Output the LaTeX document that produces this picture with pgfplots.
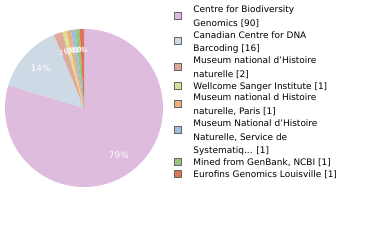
\documentclass[border=0pt]{standalone}
\usepackage{pgfplots}
\pgfplotsset{compat=1.18}
\usepackage{fontspec}
\setmainfont{DejaVu Sans}
\definecolor{c1}{HTML}{DDBCDD}
\definecolor{c2}{HTML}{CDD9E5}
\definecolor{c3}{HTML}{DEA99A}
\definecolor{c4}{HTML}{DCDF9A}
\definecolor{c5}{HTML}{EFAF79}
\definecolor{c6}{HTML}{9CBFE0}
\definecolor{c7}{HTML}{99C47D}
\definecolor{c8}{HTML}{DF7455}
\pgfplotsset{
  sqmid/.style={legend image code/.code={%
    \path[draw=none,fill=none] (0bp,0bp) (19bp,0bp);
    \draw[##1, draw=gray!80!black, line width=0.5pt] (0bp,-3.5bp) rectangle (7bp,3.5bp);}},
  sqhigh/.style={legend image code/.code={%
    \path[draw=none,fill=none] (0bp,0bp) (19bp,0bp);
    \draw[##1, draw=gray!80!black, line width=0.5pt] (0bp,2.9bp) rectangle (7bp,9.9bp);}},
}
\newcommand{\tot}{113}
\newcommand{\st}{\rule[-3.8bp]{0pt}{12.8bp}}
\newcommand{\slice}[5]{%
  \pgfmathsetmacro{\aA}{90-(#1+#2)/\tot*360}%
  \pgfmathsetmacro{\aB}{90-(#1)/\tot*360}%
  \edef\temp{\noexpand\addplot[fill=#3, draw=none, domain=\aA:\aB, samples=120, #5] ({cos(x)},{sin(x)}) -- (axis cs:0,0) -- cycle;}%
  \temp
  \addlegendentry{#4}%
}
\newcommand{\plabel}[4]{%
  \pgfmathsetmacro{\aM}{90-(#1+#2/2)/\tot*360}%
  \edef\temp{\noexpand\node[text=white, font=\unexpanded{#4}] at (axis cs:{0.74*cos(\aM)},{0.74*sin(\aM)}) {\unexpanded{#3}};}%
  \temp
}
\begin{document}
\begin{tikzpicture}
\useasboundingbox (0,0) rectangle (380bp,240bp);
\begin{axis}[
  at={(5bp,53bp)}, anchor=south west,
  scale only axis, width=158bp, height=158bp,
  xmin=-1, xmax=1, ymin=-1, ymax=1,
  hide axis, clip=false,
  legend cell align=left,
  legend style={at={(1.0696,1.162)}, anchor=north west, draw=none, fill=none,
    inner sep=0pt, row sep=1.2bp,
    font=\fontsize{9}{12.8}\selectfont,
    nodes={inner sep=0pt, align=left, text=black}},
  sqmid
]
\slice{0}{90}{c1}{\st Centre for Biodiversity\\\st Genomics [90]}{sqmid}
\slice{90}{16}{c2}{\st Canadian Centre for DNA\\\st Barcoding [16]}{sqmid}
\slice{106}{2}{c3}{\st Museum national d'Histoire\\\st naturelle [2]}{sqmid}
\slice{108}{1}{c4}{\st Wellcome Sanger Institute [1]}{sqmid}
\slice{109}{1}{c5}{\st Museum national d Histoire\\\st naturelle, Paris [1]}{sqmid}
\slice{110}{1}{c6}{\st Museum National d'Histoire\\\st Naturelle, Service de\\\st Systematiq... [1]}{sqhigh}
\slice{111}{1}{c7}{\st Mined from GenBank, NCBI [1]}{sqmid}
\slice{112}{1}{c8}{\st Eurofins Genomics Louisville [1]}{sqmid}
\plabel{0}{90}{79\%}{\fontsize{9}{10}\selectfont}
\plabel{90}{16}{14\%}{\fontsize{9}{10}\selectfont}
\plabel{106}{2}{1\%}{\fontsize{7}{8}\selectfont}
\plabel{108}{1}{0\%}{\fontsize{7}{8}\selectfont}
\plabel{109}{1}{0\%}{\fontsize{7}{8}\selectfont}
\plabel{110}{1}{0\%}{\fontsize{7}{8}\selectfont}
\plabel{111}{1}{0\%}{\fontsize{7}{8}\selectfont}
\plabel{112}{1}{0\%}{\fontsize{7}{8}\selectfont}
\end{axis}
\end{tikzpicture}
\end{document}
